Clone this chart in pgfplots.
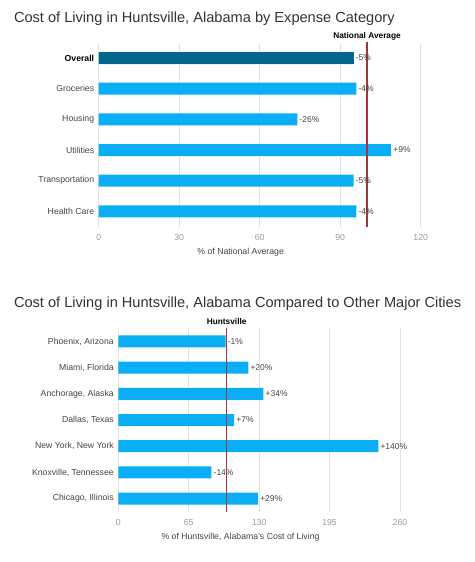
\documentclass[border=0pt]{standalone}
\usepackage{pgfplots}
\pgfplotsset{compat=1.18}
\usepackage{pgfplotstable}
\usepackage{fontspec}
\setmainfont{Liberation Sans}
\definecolor{barblue}{HTML}{0AAEF4}
\definecolor{bardark}{HTML}{05668D}
\definecolor{refred}{HTML}{A83236}
\definecolor{gridgray}{HTML}{E2E2E2}
\definecolor{ticktxt}{HTML}{9A9A9A}
\definecolor{labtxt}{HTML}{444444}
\definecolor{titletxt}{HTML}{333333}

\pgfplotstableread[col sep=comma]{
y,x,lab
0,95,-5\%
1,96,-4\%
2,74,-26\%
3,109,+9\%
4,95,-5\%
5,96,-4\%
}\expenses

\pgfplotstableread[col sep=comma]{
y,x,lab
0,99,-1\%
1,120,+20\%
2,134,+34\%
3,107,+7\%
4,240,+140\%
5,86,-14\%
6,129,+29\%
}\cities

\pgfplotsset{
  mybars/.style={
    scale only axis,
    xbar, y dir=reverse,
    clip=false,
    axis line style={draw=none},
    major tick length=0pt,
    xmajorgrids,
    grid style={gridgray, line width=0.8pt},
    ytick=data,
    tick label style={font=\fontsize{8.7pt}{10pt}\selectfont},
    xticklabel style={text=ticktxt, yshift=-4pt},
    yticklabel style={text=labtxt, xshift=-1pt},
    nodes near coords align={horizontal},
    nodes near coords style={font=\fontsize{8.5pt}{10pt}\selectfont, text=labtxt, anchor=west, inner sep=2pt},
    /pgf/number format/assume math mode=true,
  }
}

\begin{document}
\begin{tikzpicture}
\path[use as bounding box] (0pt,0pt) rectangle (474pt,-562pt);

% Chart 1
\node[anchor=west, text=titletxt, font=\fontsize{14.6pt}{17pt}\selectfont] at (10.5pt,-18.5pt) {Cost of Living in Huntsville, Alabama by Expense Category};
\begin{axis}[mybars,
  at={(98.7pt,-42.7pt)}, anchor=north west,
  width=322pt, height=184pt,
  xmin=0, xmax=120, ymin=-0.5, ymax=5.5,
  xtick={0,30,60,90,120},
  yticklabels={\textbf{\textcolor{black}{Overall}},Groceries,Housing,Utilities,Transportation,Health Care},
  bar width=12pt,
  point meta=explicit symbolic,
  nodes near coords,
]
\addplot[fill=barblue, draw=none, bar shift=0pt] table[x=x, y=y, meta=lab] {\expenses};
\addplot[fill=bardark, draw=none, bar shift=0pt, nodes near coords=\empty] coordinates {(95,0)};
\addplot[refred, line width=1.1pt, sharp plot, nodes near coords=\empty, no marks] coordinates {(100,-0.53) (100,5.5)};
\node[font=\bfseries\fontsize{8.3pt}{10pt}\selectfont, text=black] at (axis cs:100,-0.72) {National Average};
\end{axis}
\node[text=labtxt, font=\fontsize{8.7pt}{10pt}\selectfont] at (240.7pt,-252.7pt) {\% of National Average};

% Chart 2
\node[anchor=west, text=titletxt, font=\fontsize{14.6pt}{17pt}\selectfont] at (10.5pt,-304pt) {Cost of Living in Huntsville, Alabama Compared to Other Major Cities};
\begin{axis}[mybars,
  at={(118.3pt,-328.3pt)}, anchor=north west,
  width=281.7pt, height=183.4pt,
  xmin=0, xmax=260, ymin=-0.5, ymax=6.5,
  xtick={0,65,130,195,260},
  yticklabels={{Phoenix, Arizona},{Miami, Florida},{Anchorage, Alaska},{Dallas, Texas},{New York, New York},{Knoxville, Tennessee},{Chicago, Illinois}},
  bar width=12pt,
  point meta=explicit symbolic,
  nodes near coords,
]
\addplot[fill=barblue, draw=none, bar shift=0pt] table[x=x, y=y, meta=lab] {\cities};
\addplot[refred, line width=1.1pt, sharp plot, nodes near coords=\empty, no marks] coordinates {(100,-0.5) (100,6.5)};
\node[font=\bfseries\fontsize{8.3pt}{10pt}\selectfont, text=black] at (axis cs:100,-0.76) {Huntsville};
\end{axis}
\node[text=labtxt, font=\fontsize{8.7pt}{10pt}\selectfont] at (240.5pt,-537.7pt) {\% of Huntsville, Alabama's Cost of Living};
\end{tikzpicture}
\end{document}
